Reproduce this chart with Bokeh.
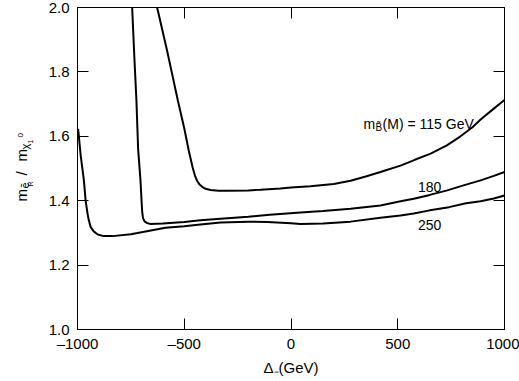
import math
from bokeh.plotting import figure
from bokeh.layouts import row
from bokeh.models import Range1d, LinearAxis, FixedTicker, Label
from bokeh.core.properties import value
from bokeh.embed import file_html
from bokeh.resources import INLINE

# ---------------- data ----------------
x_ticks = [-1000, -500, 0, 500, 1000]
x_tick_labels = ["\u20131000", "\u2013500", "0", "500", "1000"]
y_ticks = [1.0, 1.2, 1.4, 1.6, 1.8, 2.0]
y_tick_labels = ["1.0", "1.2", "1.4", "1.6", "1.8", "2.0"]

# m_B(M) = 115 GeV
x115 = [-627, -580, -530, -500, -479, -461, -450, -440, -428, -416, -400, -377,
        -340, -299, -200, -143, -50, 0, 91, 200, 279, 350, 419, 513, 580, 654,
        730, 794, 850, 888, 950, 1000]
y115 = [2.000, 1.865, 1.711, 1.625, 1.556, 1.504, 1.478, 1.462, 1.450, 1.443,
        1.437, 1.433, 1.431, 1.431, 1.432, 1.434, 1.438, 1.441, 1.445, 1.452,
        1.462, 1.475, 1.489, 1.509, 1.527, 1.546, 1.572, 1.600, 1.628, 1.652,
        1.686, 1.713]

# 180 GeV
x180 = [-744, -734, -724, -716, -705, -700, -697, -693, -686, -675, -660, -600,
        -500, -424, -330, -200, -100, 45, 150, 279, 419, 513, 575, 650, 732,
        800, 888, 950, 1000]
y180 = [2.000, 1.850, 1.711, 1.560, 1.463, 1.400, 1.365, 1.346, 1.336, 1.331,
        1.328, 1.329, 1.334, 1.339, 1.344, 1.350, 1.356, 1.363, 1.368, 1.375,
        1.385, 1.398, 1.406, 1.418, 1.432, 1.446, 1.463, 1.477, 1.489]

# 250 GeV
x250 = [-997, -985, -970, -962, -953, -947, -938, -923, -905, -878, -836, -750,
        -588, -500, -424, -330, -200, -110, 0, 45, 150, 279, 419, 513, 575, 650,
        740, 820, 888, 950, 1000]
y250 = [1.623, 1.540, 1.463, 1.400, 1.360, 1.339, 1.318, 1.304, 1.295, 1.290,
        1.290, 1.296, 1.316, 1.321, 1.326, 1.332, 1.335, 1.334, 1.330, 1.328,
        1.329, 1.335, 1.347, 1.354, 1.360, 1.370, 1.380, 1.392, 1.398, 1.407,
        1.416]

FONT = "Liberation Sans"
W, H = 519, 381
LW = 40               # width of the strip holding the rotated y-axis title
FRAME_TOP, FRAME_BOTTOM = 7, 329

p = figure(width=W - LW, height=H,
           x_range=Range1d(-1000, 1000), y_range=Range1d(1.0, 2.0),
           output_backend="svg", toolbar_location=None,
           min_border_left=77 - LW, min_border_right=15,
           min_border_top=FRAME_TOP, min_border_bottom=H - FRAME_BOTTOM,
           x_axis_label="\u0394\u208B(GeV)")
p.grid.visible = False
p.outline_line_color = "black"
p.outline_line_width = 1
p.background_fill_color = "white"
p.border_fill_color = "white"


def style(ax, show_labels=True):
    ax.major_tick_in = 11
    ax.major_tick_out = 0
    ax.minor_tick_line_color = None
    ax.axis_line_color = "black"
    ax.major_tick_line_color = "black"
    ax.major_label_text_font = FONT
    ax.major_label_text_color = "black"
    ax.major_label_text_font_size = "15px"
    if not show_labels:
        ax.major_label_standoff = 0


p.xaxis.ticker = FixedTicker(ticks=x_ticks)
p.xaxis.major_label_overrides = dict(zip(x_ticks, x_tick_labels))
p.yaxis.ticker = FixedTicker(ticks=y_ticks)
p.yaxis.major_label_overrides = dict(zip(y_ticks, y_tick_labels))
style(p.xaxis[0])
style(p.yaxis[0])
p.xaxis.major_label_standoff = 5
p.yaxis.major_label_standoff = 8
p.xaxis.axis_label_text_font = FONT
p.xaxis.axis_label_text_font_style = "normal"
p.xaxis.axis_label_text_font_size = "15px"
p.xaxis.axis_label_text_color = "black"
p.xaxis.axis_label_standoff = 4

top = LinearAxis(ticker=FixedTicker(ticks=x_ticks),
                 major_label_overrides={t: "" for t in x_ticks})
style(top, False)
p.add_layout(top, "above")
right = LinearAxis(ticker=FixedTicker(ticks=y_ticks),
                   major_label_overrides={t: "" for t in y_ticks})
style(right, False)
p.add_layout(right, "right")

for xs, ys in ((x115, y115), (x180, y180), (x250, y250)):
    p.line(xs, ys, line_width=2, line_color="black")


def dlabel(x, y, text, size="14px", xo=0, yo=0, align="left", base="alphabetic"):
    p.add_layout(Label(x=x, y=y, text=text, x_offset=xo, y_offset=yo,
                       text_font=FONT, text_font_size=size, text_color="black",
                       text_align=align, text_baseline=base))


dlabel(340, 1.637, "m")
dlabel(340, 1.637, "B\u0303", size="10px", xo=12, yo=-3)
dlabel(340, 1.637, "(M) = 115 GeV", xo=19)
dlabel(649, 1.444, "180", align="center", base="middle")
dlabel(649, 1.323, "250", align="center", base="middle")

# ---- strip with the rotated y-axis title ----
# its frame is aligned with the main frame, so map the range to page pixels
q = figure(width=LW, height=H, x_range=Range1d(0, LW),
           y_range=Range1d(H - FRAME_BOTTOM, H - FRAME_TOP),
           output_backend="svg", toolbar_location=None,
           min_border_left=0, min_border_right=0,
           min_border_top=FRAME_TOP, min_border_bottom=H - FRAME_BOTTOM)
q.axis.visible = False
q.grid.visible = False
q.outline_line_color = None
q.border_fill_color = "white"
q.background_fill_color = "white"

title_parts = [
    # (x, y from page top, text, font size)
    (20.5, 201, "m", "15px"),
    (24.5, 188, "\u1EBD", "11px"),
    (29.5, 186, "R", "7px"),
    (20.5, 175, "/", "15px"),
    (20.5, 161, "m", "15px"),
    (24.0, 149, "\u03C7", "11px"),
    (29.5, 143, "1", "7px"),
    (19.5, 137, "0", "8px"),
]
for tx, ty, tt, ts in title_parts:
    q.text(x=[tx], y=[H - ty], text=[tt], angle=math.pi / 2,
           text_font=value(FONT), text_font_size=value(ts),
           text_color="black", text_align="left", text_baseline="alphabetic")

layout = row(q, p, spacing=0)
open("out.html", "w").write(file_html(layout, INLINE))
